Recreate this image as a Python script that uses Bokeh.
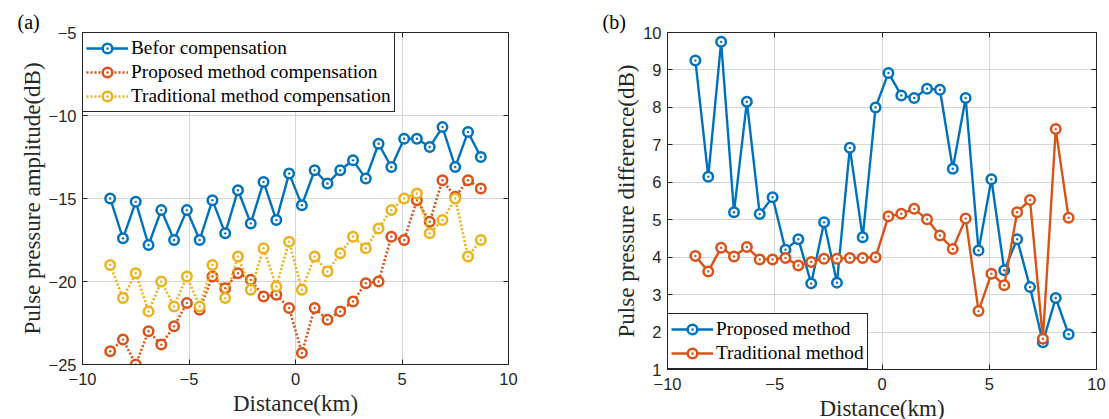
from bokeh.plotting import figure
from bokeh.models import (LinearAxis, FixedTicker, Legend, LegendItem, Title)
from bokeh.layouts import row
from bokeh.embed import file_html
from bokeh.resources import INLINE

# ---------------- data ----------------
distance = [-8.7, -8.1, -7.5, -6.9, -6.3, -5.7, -5.1, -4.5, -3.9, -3.3,
            -2.7, -2.1, -1.5, -0.9, -0.3, 0.3, 0.9, 1.5, 2.1, 2.7,
            3.3, 3.9, 4.5, 5.1, 5.7, 6.3, 6.9, 7.5, 8.1, 8.7]

before_comp = [-15.0, -17.4, -15.2, -17.8, -15.7, -17.5, -15.7, -17.5, -15.1, -17.1,
               -14.5, -16.5, -14.0, -16.3, -13.5, -15.4, -13.3, -14.1, -13.3, -12.7,
               -13.8, -11.7, -13.1, -11.4, -11.4, -11.9, -10.7, -13.1, -11.0, -12.5]
proposed_comp = [-24.2, -23.5, -25.0, -23.0, -23.8, -22.7, -21.3, -21.7, -19.7, -20.4,
                 -19.5, -19.9, -20.9, -20.8, -21.6, -24.3, -21.6, -22.3, -21.8, -21.2,
                 -20.1, -20.0, -17.3, -17.5, -15.1, -16.4, -13.9, -14.9, -13.9, -14.4]
traditional_comp = [-19.0, -21.0, -19.5, -21.8, -20.0, -21.5, -19.7, -21.5, -19.0, -21.0,
                    -18.5, -20.5, -18.0, -20.3, -17.6, -20.5, -18.5, -19.4, -18.3, -17.3,
                    -18.0, -16.8, -15.7, -15.0, -14.7, -17.1, -16.3, -15.0, -18.5, -17.5]

proposed_diff = [9.25, 6.15, 9.75, 5.2, 8.15, 5.15, 5.6, 4.2, 4.48, 3.3,
                 4.93, 3.32, 6.92, 4.53, 8.0, 8.92, 8.32, 8.25, 8.5, 8.47,
                 6.36, 8.25, 4.18, 6.08, 3.65, 4.48, 3.2, 1.73, 2.91, 1.94]
traditional_diff = [4.03, 3.62, 4.25, 4.02, 4.27, 3.94, 3.94, 3.98, 3.78, 3.87,
                    3.96, 3.96, 3.98, 3.98, 4.0, 5.09, 5.16, 5.29, 5.01, 4.58,
                    4.22, 5.03, 2.56, 3.56, 3.25, 5.2, 5.53, 1.82, 7.42, 5.05]

x_ticks = [-10, -5, 0, 5, 10]
y_ticks_a = [-25, -20, -15, -10, -5]
y_ticks_b = [1, 2, 3, 4, 5, 6, 7, 8, 9, 10]

labels_a = ["Befor compensation", "Proposed method compensation",
            "Traditional method compensation"]
labels_b = ["Proposed method", "Traditional method"]

BLUE = "#0072BD"
ORANGE = "#D95319"
YELLOW = "#EDB120"
DARK = "#262626"
SERIF = "Liberation Serif"
SANS = "Liberation Sans"


def style(p, xt, yt):
    p.add_layout(LinearAxis(), "above")
    p.add_layout(LinearAxis(), "right")
    for ax in p.xaxis:
        ax.ticker = FixedTicker(ticks=xt)
    for ax in p.yaxis:
        ax.ticker = FixedTicker(ticks=yt)
    for ax in p.axis:
        ax.axis_line_color = DARK
        ax.axis_line_width = 1
        ax.major_tick_line_color = DARK
        ax.major_tick_in = 5
        ax.major_tick_out = 0
        ax.minor_tick_line_color = None
        ax.major_label_text_font = SANS
        ax.major_label_text_font_size = "16.5px"
        ax.major_label_text_color = DARK
        ax.axis_label_text_font = SERIF
        ax.axis_label_text_font_size = "23px"
        ax.axis_label_text_font_style = "normal"
        ax.axis_label_text_color = DARK
    for ax in (p.above[0], p.right[0]):
        ax.major_label_text_font_size = "0px"
        ax.major_label_standoff = 0
        ax.axis_label = None
    p.below[0].major_label_standoff = 8
    p.below[0].axis_label_standoff = 3
    p.left[0].major_label_standoff = 6
    p.left[0].axis_label_standoff = 1
    p.xgrid.grid_line_color = "#d6d6d6"
    p.ygrid.grid_line_color = "#d6d6d6"
    p.xgrid.grid_line_width = 1
    p.ygrid.grid_line_width = 1
    p.outline_line_color = DARK
    p.outline_line_width = 1
    p.outline_line_alpha = 1
    p.background_fill_color = "white"
    p.border_fill_color = "white"


def series(p, x, y, color, dash):
    lr = p.line(x, y, line_color=color, line_width=2.4 if dash == "solid" else 2.6,
                line_dash=dash)
    sr = p.scatter(x, y, marker="circle_dot", size=9.5, line_color=color, line_width=2.5,
                   fill_color="white")
    return [lr, sr]


def panel_title(p, text, offset):
    t = Title(text=text, align="left", offset=offset, standoff=0,
              text_font=SERIF, text_font_size="20px", text_font_style="normal",
              text_color="black")
    p.add_layout(t, "above")


# ---------------- (a) ----------------
p1 = figure(frame_width=426, frame_height=332, x_range=(-10, 10), y_range=(-25, -5),
            min_border_left=82, min_border_right=60, min_border_top=32, min_border_bottom=55,
            output_backend="svg", toolbar_location=None)
style(p1, x_ticks, y_ticks_a)
p1.below[0].axis_label = "Distance(km)"
p1.left[0].axis_label = "Pulse pressure amplitude(dB)"
panel_title(p1, "(a)", -65)

ra = [series(p1, distance, before_comp, BLUE, "solid"),
      series(p1, distance, proposed_comp, ORANGE, "2 2"),
      series(p1, distance, traditional_comp, YELLOW, "2 2")]
leg1 = Legend(items=[LegendItem(label=l, renderers=r) for l, r in zip(labels_a, ra)],
              location="top_left")
p1.add_layout(leg1, "center")

# ---------------- (b) ----------------
p2 = figure(frame_width=429, frame_height=337, x_range=(-10, 10), y_range=(1, 10),
            min_border_left=99, min_border_right=13, min_border_top=26, min_border_bottom=56,
            output_backend="svg", toolbar_location=None)
style(p2, x_ticks, y_ticks_b)
p2.below[0].axis_label = "Distance(km)"
p2.left[0].axis_label = "Pulse pressure difference(dB)"
panel_title(p2, "(b)", -65)

rb = [series(p2, distance, proposed_diff, BLUE, "solid"),
      series(p2, distance, traditional_diff, ORANGE, "solid")]
leg2 = Legend(items=[LegendItem(label=l, renderers=r) for l, r in zip(labels_b, rb)],
              location="bottom_left")
p2.add_layout(leg2, "center")

for lg in (leg1, leg2):
    lg.margin = 0
    lg.padding = 3
    lg.spacing = 0
    lg.glyph_width = 42
    lg.glyph_height = 24
    lg.label_height = 24
    lg.label_standoff = 3
    lg.label_text_font = SERIF
    lg.label_text_font_size = "19.3px"
    lg.label_text_color = "black"
    lg.border_line_color = DARK
    lg.border_line_width = 1
    lg.border_line_alpha = 1
    lg.background_fill_color = "white"
    lg.background_fill_alpha = 1

layout = row(p1, p2)
open("out.html", "w").write(file_html(layout, INLINE))
